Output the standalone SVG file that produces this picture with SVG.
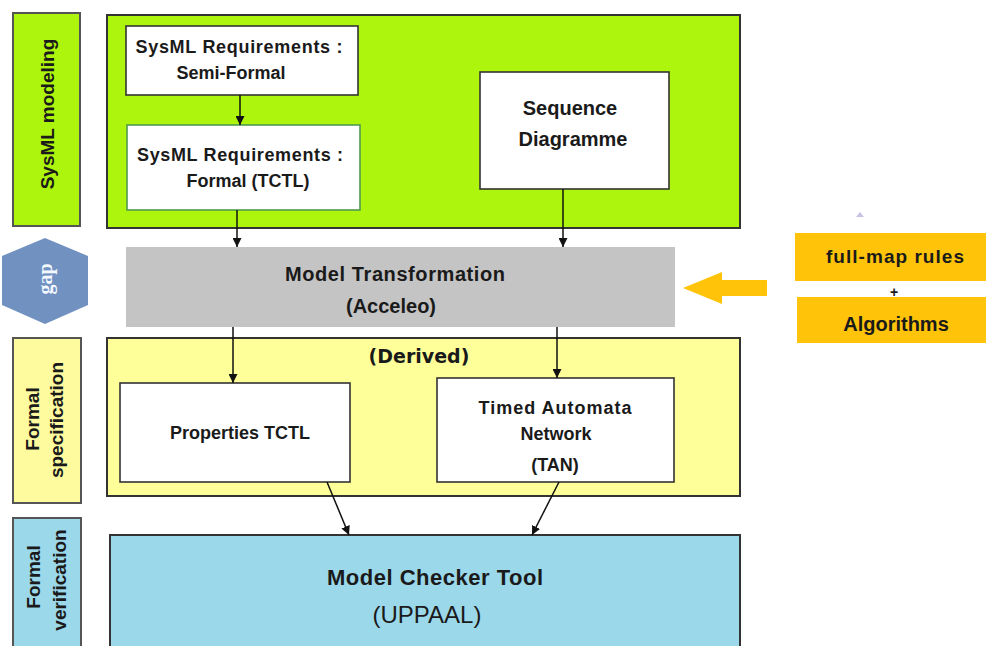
<svg xmlns="http://www.w3.org/2000/svg" width="986" height="646" viewBox="0 0 986 646">
<style>
text{font-family:"Liberation Sans",Arial,sans-serif;font-weight:bold;fill:#1a1a1a;text-anchor:middle}
.lab{stroke:#555;stroke-width:2}
.box{stroke:#333;stroke-width:1.6}
.frame{stroke:#333;stroke-width:2}
.c line{stroke:#111;stroke-width:1.5}
</style>
<defs>
<marker id="ah" viewBox="0 0 10 10" refX="10" refY="5" markerWidth="9" markerHeight="9" markerUnits="userSpaceOnUse" orient="auto">
<path d="M0,0 L10,5 L0,10 z" fill="#111"/>
</marker>
</defs>
<rect width="986" height="646" fill="#fff"/>

<g id="lab-sysml"><rect class="lab" x="13" y="13" width="67" height="213" fill="#adf50c"/>
<text transform="translate(54,114) rotate(-90)" font-size="19">SysML modeling</text></g>

<g id="sysml-frame"><rect class="frame" x="107" y="15" width="633" height="213" fill="#adf50c"/></g>

<g id="req-semi"><rect class="box" x="126" y="26" width="232" height="69" fill="#fff"/>
<text x="239" y="53" font-size="18" textLength="207">SysML Requirements :</text>
<text x="231" y="79" font-size="18">Semi-Formal</text></g>

<g id="req-formal"><rect x="127" y="125" width="233" height="85" fill="#fff" stroke="#4f9a4f" stroke-width="1.6"/>
<text x="240" y="161" font-size="18" textLength="206">SysML Requirements :</text>
<text x="248" y="187" font-size="18">Formal (TCTL)</text></g>

<g id="seq"><rect class="box" x="480" y="72" width="189" height="117" fill="#fff"/>
<text x="570" y="115" font-size="20">Sequence</text>
<text x="573" y="146" font-size="20">Diagramme</text></g>

<g id="gap"><polygon points="45,238 88,256 88,305 45,324 2,305 2,256" fill="#7192c1"/>
<text transform="translate(52,279) rotate(-90)" font-size="20" style="font-family:'Liberation Serif',serif;fill:#f4f8ff">gap</text></g>

<g id="transform"><rect x="126" y="247" width="549" height="80" fill="#c4c4c4"/>
<text x="395" y="281" font-size="20" textLength="220">Model Transformation</text>
<text x="391" y="313" font-size="20">(Acceleo)</text></g>

<g id="rules"><rect x="795" y="233" width="191" height="48" fill="#ffc40a"/>
<text x="895" y="263" font-size="19" textLength="138">full-map rules</text></g>
<g id="plus"><text x="894" y="297" font-size="14">+</text></g>
<g id="algo"><rect x="797" y="297" width="189" height="46" fill="#ffc40a"/>
<text x="896" y="331" font-size="20">Algorithms</text></g>
<polygon points="856,217 860,212 864,217" fill="#c9c2e6"/>

<g id="lab-spec"><rect class="lab" x="13" y="338" width="68" height="165" fill="#fdfb9e"/>
<text transform="translate(39,419) rotate(-90)" font-size="19">Formal</text>
<text transform="translate(63,420) rotate(-90)" font-size="19">specification</text></g>

<g id="spec-frame"><rect class="frame" x="107" y="338" width="633" height="158" fill="#ffff99"/>
<text x="419" y="363" font-size="19" style="font-weight:900;font-family:'DejaVu Sans',sans-serif">(Derived)</text></g>

<g id="props"><rect class="box" x="120" y="383" width="230" height="99" fill="#fff"/>
<text x="240" y="439" font-size="18">Properties TCTL</text></g>

<g id="tan"><rect class="box" x="437" y="378" width="237" height="104" fill="#fff"/>
<text x="555" y="414" font-size="18" textLength="153">Timed Automata</text>
<text x="556" y="440" font-size="18">Network</text>
<text x="555" y="471" font-size="18">(TAN)</text></g>

<g id="lab-verif"><rect class="lab" x="13" y="518" width="68" height="140" fill="#9ad8ea"/>
<text transform="translate(40,577) rotate(-90)" font-size="19">Formal</text>
<text transform="translate(66,580) rotate(-90)" font-size="19">verification</text></g>

<g id="checker"><rect class="frame" x="110" y="535" width="630" height="130" fill="#9bd8ea"/>
<text x="435" y="585" font-size="22" textLength="216">Model Checker Tool</text>
<text x="427" y="623" font-size="24" style="font-weight:normal">(UPPAAL)</text></g>

<g class="c" id="connectors">
<line x1="240" y1="95" x2="240" y2="125" marker-end="url(#ah)"/>
<line x1="237" y1="210" x2="237" y2="247" marker-end="url(#ah)"/>
<line x1="563" y1="189" x2="563" y2="247" marker-end="url(#ah)"/>
<line x1="233" y1="327" x2="233" y2="383" marker-end="url(#ah)"/>
<line x1="557" y1="327" x2="557" y2="378" marker-end="url(#ah)"/>
<line x1="327" y1="482" x2="349" y2="535" marker-end="url(#ah)"/>
<line x1="559" y1="482" x2="532" y2="535" marker-end="url(#ah)"/>
<polygon points="683,288 722,272 722,280 767,280 767,296 722,296 722,304" fill="#ffc40a"/>
</g>
</svg>
